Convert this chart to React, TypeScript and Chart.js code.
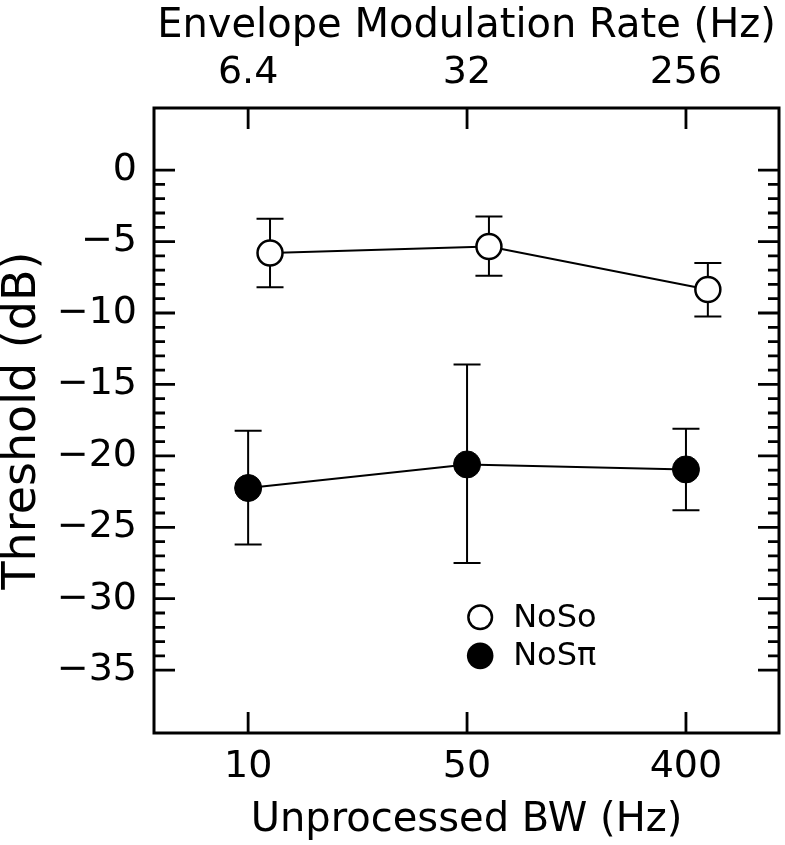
import React, { useEffect, useRef } from 'react';
import { Chart, registerables } from 'chart.js';

Chart.register(...registerables);

// ---- data ----
const X_POS = [0, 1, 2];
const BW_LABELS = ['10', '50', '400'];
const RATE_LABELS = ['6.4', '32', '256'];
const Y_TICKS = [0, -5, -10, -15, -20, -25, -30, -35];

const NOSO_X = [0.1, 1.1, 2.1];
const NOSO_Y = [-5.8, -5.35, -8.35];
const NOSO_HI = [-3.4, -3.25, -6.5];
const NOSO_LO = [-8.2, -7.4, -10.25];

const NOSPI_X = [0, 1, 2];
const NOSPI_Y = [-22.25, -20.6, -20.95];
const NOSPI_HI = [-18.25, -13.6, -18.1];
const NOSPI_LO = [-26.2, -27.5, -23.8];

const SERIES_NAMES = ['NoSo', 'NoSπ'];
const LEGEND_X = 1.06;
const LEGEND_Y = [-31.3, -34.0];

const FAMILY = "'DejaVu Sans', 'Liberation Sans', sans-serif";
const TICK_FONT = { family: FAMILY, size: 38 };
const XTITLE_FONT = { family: FAMILY, size: 40 };
const YTITLE_FONT = { family: FAMILY, size: 46, lineHeight: 1 };

const ERRS = [
  { x: NOSO_X, hi: NOSO_HI, lo: NOSO_LO },
  { x: NOSPI_X, hi: NOSPI_HI, lo: NOSPI_LO },
];

const fmt = (v: number) => (v < 0 ? '\u2212' + Math.abs(v) : String(v));

const framePlugin = {
  id: 'frameTicksErr',
  beforeDatasetsDraw(chart: any) {
    const ctx = chart.ctx;
    const xs = chart.scales.x;
    const ys = chart.scales.y;
    ctx.save();
    ctx.strokeStyle = '#000';
    ctx.lineWidth = 2;
    ctx.lineCap = 'butt';
    const cap = 13.5;
    ERRS.forEach((e) => {
      e.x.forEach((xv, i) => {
        const px = xs.getPixelForValue(xv);
        const pHi = ys.getPixelForValue(e.hi[i]);
        const pLo = ys.getPixelForValue(e.lo[i]);
        ctx.beginPath();
        ctx.moveTo(px, pHi);
        ctx.lineTo(px, pLo);
        ctx.moveTo(px - cap, pHi);
        ctx.lineTo(px + cap, pHi);
        ctx.moveTo(px - cap, pLo);
        ctx.lineTo(px + cap, pLo);
        ctx.stroke();
      });
    });
    ctx.restore();
  },
  afterDraw(chart: any) {
    const ctx = chart.ctx;
    const { left, right, top, bottom } = chart.chartArea;
    const xs = chart.scales.x;
    const ys = chart.scales.y;
    ctx.save();
    ctx.strokeStyle = '#000';
    ctx.lineCap = 'butt';
    // frame
    ctx.lineWidth = 3;
    ctx.strokeRect(left, top, right - left, bottom - top);
    // y ticks (inward, both sides)
    ctx.lineWidth = 2.8;
    const yMax = Y_TICKS[0];
    const yMin = Y_TICKS[Y_TICKS.length - 1];
    for (let v = yMin; v <= yMax; v += 1) {
      const major = Y_TICKS.includes(v);
      const len = major ? 21 : 11;
      const py = ys.getPixelForValue(v);
      ctx.beginPath();
      ctx.moveTo(left, py);
      ctx.lineTo(left + len, py);
      ctx.moveTo(right, py);
      ctx.lineTo(right - len, py);
      ctx.stroke();
    }
    // x ticks top & bottom
    X_POS.forEach((v) => {
      const px = xs.getPixelForValue(v);
      ctx.beginPath();
      ctx.moveTo(px, bottom);
      ctx.lineTo(px, bottom - 21);
      ctx.moveTo(px, top);
      ctx.lineTo(px, top + 21);
      ctx.stroke();
    });
    // legend
    const cx = xs.getPixelForValue(LEGEND_X);
    const y1 = ys.getPixelForValue(LEGEND_Y[0]);
    const y2 = ys.getPixelForValue(LEGEND_Y[1]);
    ctx.lineWidth = 2.5;
    ctx.fillStyle = '#fff';
    ctx.beginPath();
    ctx.arc(cx, y1, 11.8, 0, Math.PI * 2);
    ctx.fill();
    ctx.stroke();
    ctx.fillStyle = '#000';
    ctx.beginPath();
    ctx.arc(cx, y2, 13.3, 0, Math.PI * 2);
    ctx.fill();
    ctx.font = `32px ${FAMILY}`;
    ctx.textAlign = 'left';
    ctx.textBaseline = 'middle';
    ctx.fillText(SERIES_NAMES[0], cx + 33, y1 + 1);
    ctx.fillText(SERIES_NAMES[1], cx + 33, y2 + 1);
    ctx.restore();
  },
};

export default function App() {
  const ref = useRef<HTMLCanvasElement | null>(null);
  useEffect(() => {
    if (!ref.current) return;
    const chart = new Chart(ref.current, {
      type: 'line',
      data: {
        datasets: [
          {
            label: SERIES_NAMES[0],
            data: NOSO_X.map((x, i) => ({ x, y: NOSO_Y[i] })),
            borderColor: '#000',
            borderWidth: 2,
            pointRadius: 12.5,
            pointBorderWidth: 2.5,
            pointBackgroundColor: '#fff',
            pointBorderColor: '#000',
            showLine: true,
            fill: false,
            tension: 0,
            clip: false,
          },
          {
            label: SERIES_NAMES[1],
            data: NOSPI_X.map((x, i) => ({ x, y: NOSPI_Y[i] })),
            borderColor: '#000',
            borderWidth: 2,
            pointRadius: 13.5,
            pointBorderWidth: 1,
            pointBackgroundColor: '#000',
            pointBorderColor: '#000',
            showLine: true,
            fill: false,
            tension: 0,
            clip: false,
          },
        ],
      },
      options: {
        animation: false,
        responsive: false,
        devicePixelRatio: 1,
        events: [],
        layout: { autoPadding: false, padding: { left: 0, right: 6, top: 0, bottom: 0 } },
        plugins: { legend: { display: false }, tooltip: { enabled: false } },
        scales: {
          x: {
            type: 'linear',
            position: 'bottom',
            display: true,
            min: -0.43,
            max: 2.425,
            afterBuildTicks: (s: any) => {
              s.ticks = X_POS.map((v) => ({ value: v }));
            },
            ticks: {
              callback: (_v: any, i: number) => BW_LABELS[i],
              padding: 11,
              font: TICK_FONT,
              color: '#000',
              maxRotation: 0,
              autoSkip: false,
            },
            grid: { display: false, drawTicks: false },
            border: { display: false },
            title: {
              display: true,
              text: 'Unprocessed BW (Hz)',
              font: XTITLE_FONT,
              color: '#000',
              padding: { top: 0, bottom: 0 },
            },
            afterFit: (s: any) => {
              s.height = 112;
            },
          },
          x2: {
            type: 'linear',
            position: 'top',
            display: true,
            min: -0.43,
            max: 2.425,
            afterBuildTicks: (s: any) => {
              s.ticks = X_POS.map((v) => ({ value: v }));
            },
            ticks: {
              callback: (_v: any, i: number) => RATE_LABELS[i],
              padding: 12,
              font: TICK_FONT,
              color: '#000',
              maxRotation: 0,
              autoSkip: false,
            },
            grid: { display: false, drawTicks: false },
            border: { display: false },
            title: {
              display: true,
              text: 'Envelope Modulation Rate (Hz)',
              font: XTITLE_FONT,
              color: '#000',
              padding: { top: 3, bottom: 0 },
            },
            afterFit: (s: any) => {
              s.height = 108;
            },
          },
          y: {
            type: 'linear',
            position: 'left',
            min: -39.4,
            max: 4.35,
            afterBuildTicks: (s: any) => {
              s.ticks = Y_TICKS.map((v) => ({ value: v }));
            },
            ticks: {
              callback: (v: any) => fmt(Number(v)),
              padding: 17,
              font: TICK_FONT,
              color: '#000',
              autoSkip: false,
            },
            grid: { display: false, drawTicks: false },
            border: { display: false },
            title: {
              display: true,
              text: 'Threshold (dB)',
              font: YTITLE_FONT,
              color: '#000',
              padding: { top: 0, bottom: 0 },
            },
            afterFit: (s: any) => {
              s.width = 154;
            },
          },
        },
      } as any,
      plugins: [framePlugin],
    });
    return () => chart.destroy();
  }, []);
  return (
    <div style={{ position: 'absolute', left: 0, top: 0, width: 785, height: 845, background: '#fff' }}>
      <canvas ref={ref} width={785} height={845} style={{ display: 'block', width: 785, height: 845 }} />
    </div>
  );
}
